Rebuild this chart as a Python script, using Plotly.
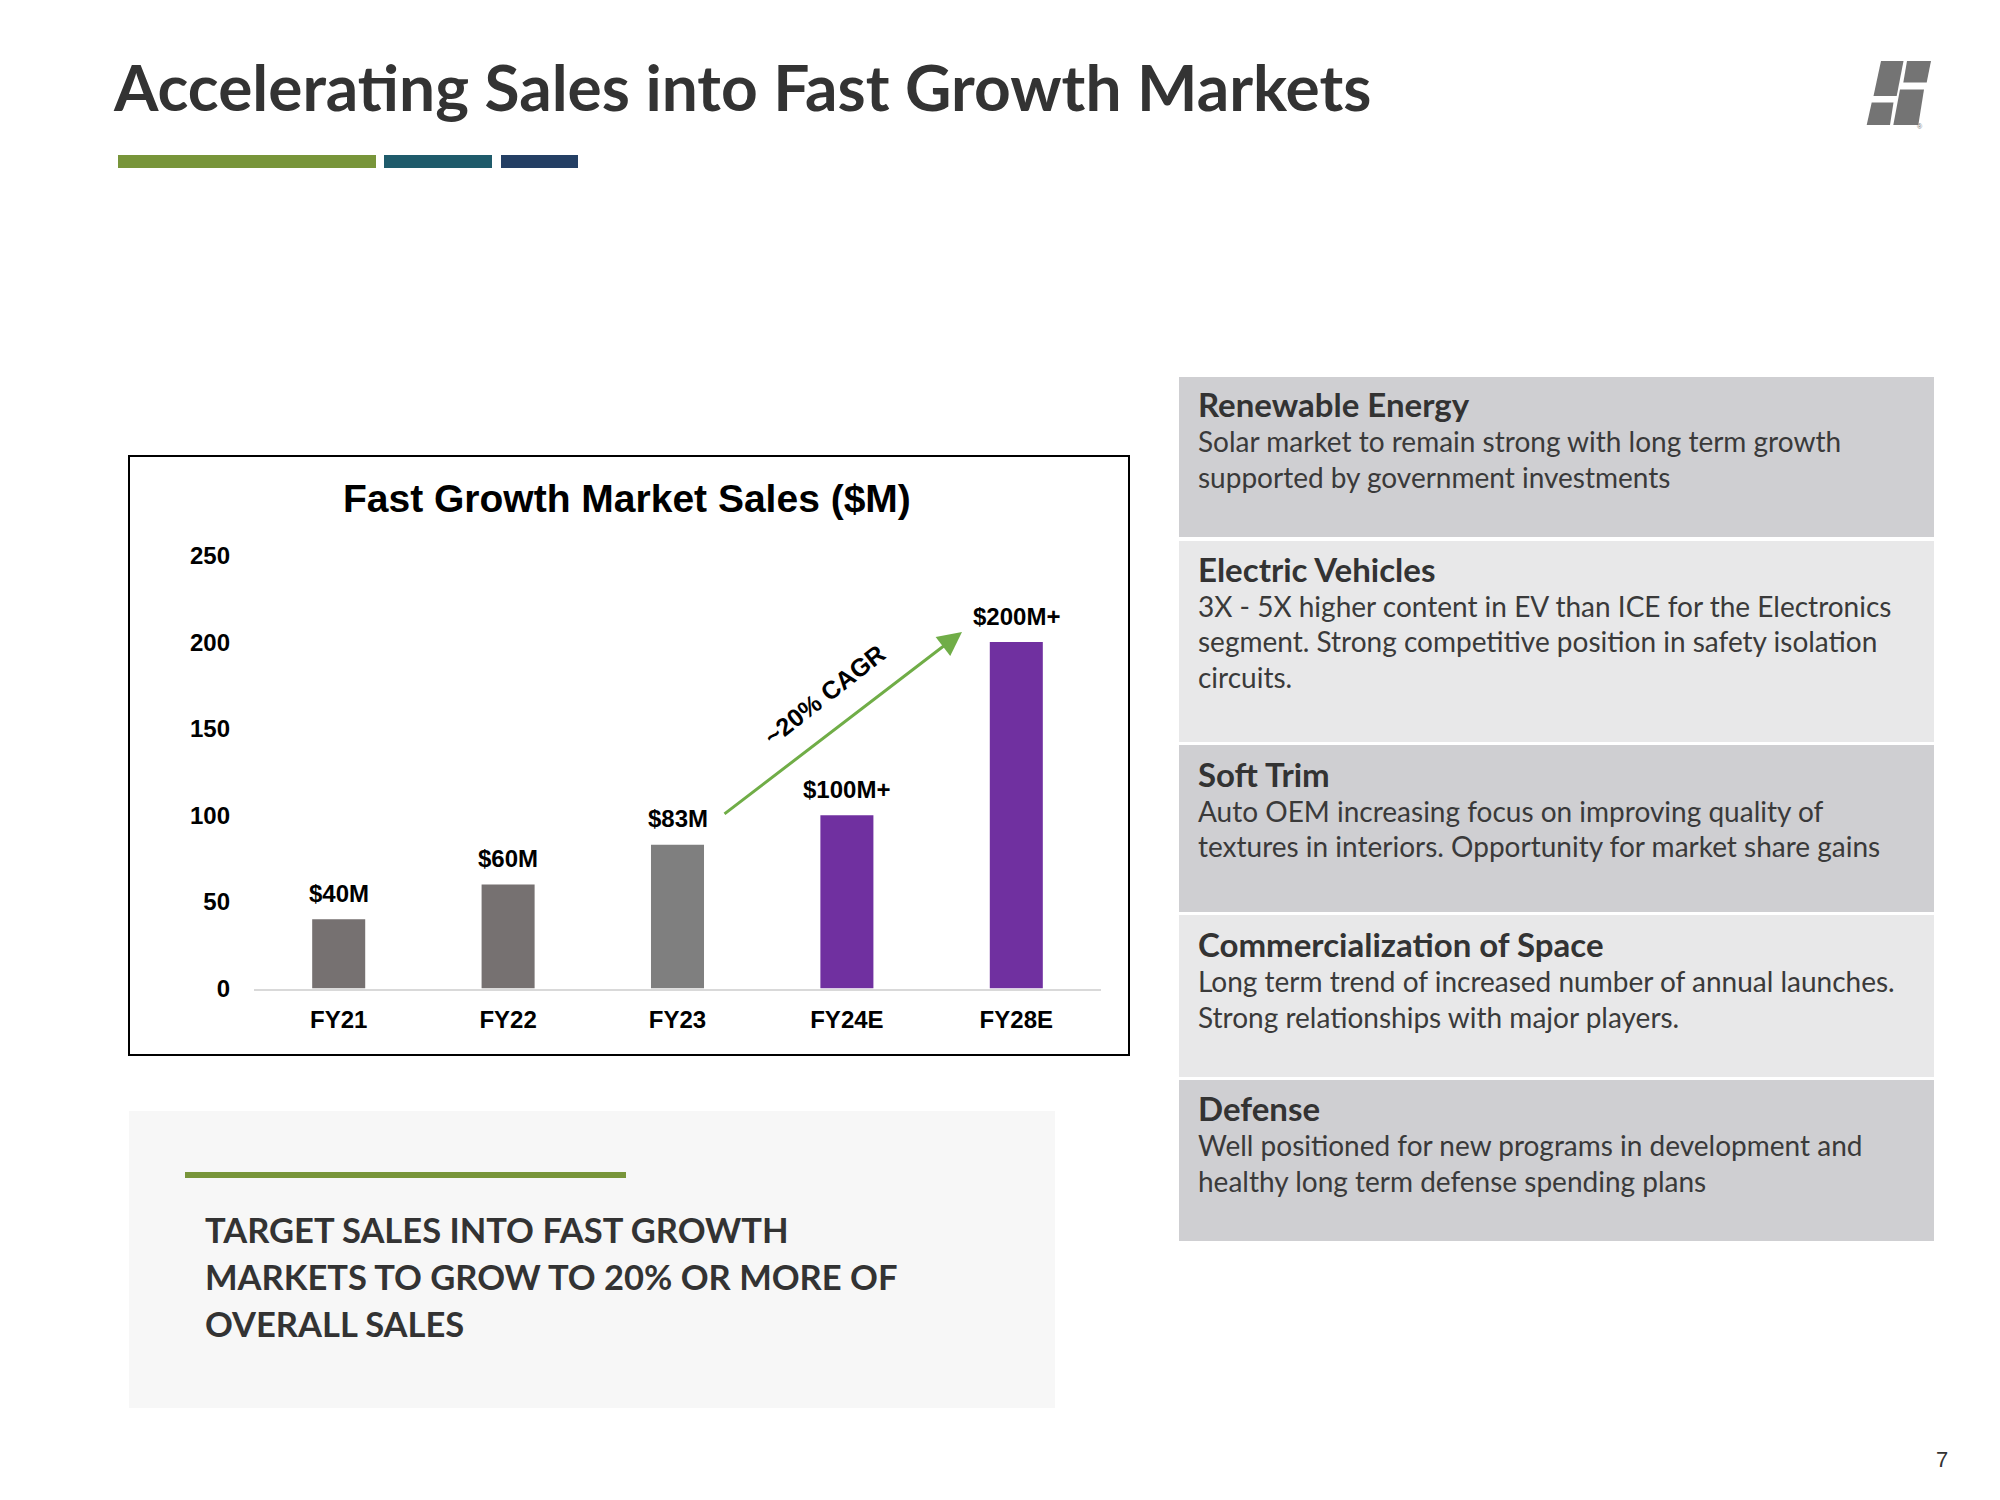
import plotly.graph_objects as go

# the page body adds an 8px margin; size the figure so it fills the window exactly
OFF = 8
W, H = 2000 - OFF, 1500 - OFF

def X(px):
    return (px - OFF) / W

def Y(py):
    return 1 - (py - OFF) / H

# ---------------- data ----------------
years = ["FY21", "FY22", "FY23", "FY24E", "FY28E"]
sales = [40, 60, 83, 100, 200]
sales_labels = ["$40M", "$60M", "$83M", "$100M+", "$200M+"]
bar_colors = ["#767171", "#767171", "#7f7f7f", "#7030a0", "#7030a0"]
y_ticks = [0, 50, 100, 150, 200, 250]

panel_titles = ["Renewable Energy", "Electric Vehicles", "Soft Trim",
                "Commercialization of Space", "Defense"]
panel_bodies = [
    ["Solar market to remain strong with long term growth",
     "supported by government investments"],
    ["3X - 5X higher content in EV than ICE for the Electronics",
     "segment. Strong competitive position in safety isolation",
     "circuits."],
    ["Auto OEM increasing focus on improving quality of",
     "textures in interiors. Opportunity for market share gains"],
    ["Long term trend of increased number of annual launches.",
     "Strong relationships with major players."],
    ["Well positioned for new programs in development and",
     "healthy long term defense spending plans"],
]
takeaway_lines = ["TARGET SALES INTO FAST GROWTH",
                  "MARKETS TO GROW TO 20% OR MORE OF",
                  "OVERALL SALES"]

TEXT_FONT = "Lato"
CHART_FONT = "Liberation Sans"
DARK = "#333333"

fig = go.Figure()
fig.add_trace(go.Bar(
    x=years, y=sales, marker=dict(color=bar_colors, line=dict(width=0)),
    hoverinfo="skip", showlegend=False,
))

shapes = []
annotations = []

# ---- header ----
annotations.append(dict(
    text="Accelerating Sales into Fast Growth Markets", x=X(111), y=Y(86),
    xref="paper", yref="paper", xanchor="left", yanchor="middle", showarrow=False,
    font=dict(family=TEXT_FONT, size=64, color=DARK, weight="bold"),
))
for x0, x1, col in [(118, 376, "#78953a"), (384, 492, "#1f5b6b"), (501, 578, "#243f64")]:
    shapes.append(dict(type="rect", xref="paper", yref="paper",
                       x0=X(x0), x1=X(x1), y0=Y(168), y1=Y(155),
                       fillcolor=col, line=dict(width=0)))

# logo (four slanted blocks)
logo_polys = [
    [(1881, 61), (1903.5, 61), (1896.7, 96), (1873.5, 96)],
    [(1907, 61), (1931, 61), (1926.7, 82.5), (1903.3, 82.5)],
    [(1871.7, 102.5), (1893.5, 102.5), (1890, 125), (1866.7, 125)],
    [(1900, 89.5), (1924, 89.5), (1918.3, 125), (1893.3, 125)],
]
for poly in logo_polys:
    path = "M " + " L ".join(f"{X(a):.5f},{Y(b):.5f}" for a, b in poly) + " Z"
    shapes.append(dict(type="path", xref="paper", yref="paper", path=path,
                       fillcolor="#747474", line=dict(width=0)))
annotations.append(dict(text="®", x=X(1925), y=Y(121), xref="paper", yref="paper",
                        showarrow=False, font=dict(family=CHART_FONT, size=7, color="#747474")))

# ---- chart frame ----
shapes.append(dict(type="rect", xref="paper", yref="paper",
                   x0=X(129), x1=X(1129), y0=Y(1055), y1=Y(456),
                   line=dict(color="#000000", width=2), fillcolor="rgba(0,0,0,0)"))
annotations.append(dict(
    text="Fast Growth Market Sales ($M)", x=X(627), y=Y(499),
    xref="paper", yref="paper", xanchor="center", yanchor="middle", showarrow=False,
    font=dict(family=CHART_FONT, size=39, color="#000000", weight="bold"),
))
for cat, val, lab in zip(years, sales, sales_labels):
    annotations.append(dict(
        text=lab, x=cat, y=val, xref="x", yref="y", xanchor="center", yanchor="middle",
        yshift=26, showarrow=False,
        font=dict(family=CHART_FONT, size=24, color="#000000", weight="bold"),
    ))
# CAGR arrow
annotations.append(dict(
    text="", x=X(962), y=Y(632), xref="paper", yref="paper",
    ax=-239, ay=183, axref="pixel", ayref="pixel",
    showarrow=True, arrowhead=2, arrowsize=1.6, arrowwidth=3, arrowcolor="#70ad47",
))
annotations.append(dict(
    text="~20% CAGR", x=X(824), y=Y(695), xref="paper", yref="paper",
    xanchor="center", yanchor="middle", textangle=-38, showarrow=False,
    font=dict(family=CHART_FONT, size=25, color="#000000", weight="bold"),
))

# ---- takeaway box ----
shapes.append(dict(type="rect", xref="paper", yref="paper",
                   x0=X(129), x1=X(1055), y0=Y(1408), y1=Y(1111),
                   fillcolor="#f7f7f7", line=dict(width=0), layer="below"))
shapes.append(dict(type="rect", xref="paper", yref="paper",
                   x0=X(185), x1=X(626), y0=Y(1178), y1=Y(1172),
                   fillcolor="#78953a", line=dict(width=0)))
for i, line in enumerate(takeaway_lines):
    annotations.append(dict(
        text=line, x=X(203), y=Y(1229 + 47 * i), xref="paper", yref="paper",
        xanchor="left", yanchor="middle", showarrow=False,
        font=dict(family=TEXT_FONT, size=34.5, color=DARK, weight="bold"),
    ))

# ---- right panel ----
box_bounds = [(377, 537), (541, 742), (745, 912), (915, 1077), (1080, 1241)]
box_fill = ["#cfcfd2", "#e8e8e9", "#cfcfd2", "#e8e8e9", "#cfcfd2"]
head_y = [404, 569, 774, 944, 1108]
for (top, bot), col, hy, title, body in zip(box_bounds, box_fill, head_y,
                                            panel_titles, panel_bodies):
    shapes.append(dict(type="rect", xref="paper", yref="paper",
                       x0=X(1179), x1=X(1934), y0=Y(bot), y1=Y(top),
                       fillcolor=col, line=dict(width=0), layer="below"))
    annotations.append(dict(
        text=title, x=X(1196), y=Y(hy), xref="paper", yref="paper",
        xanchor="left", yanchor="middle", showarrow=False,
        font=dict(family=TEXT_FONT, size=33, color=DARK, weight="bold"),
    ))
    for j, line in enumerate(body):
        annotations.append(dict(
            text=line, x=X(1196), y=Y(hy + 37 + 35.5 * j), xref="paper", yref="paper",
            xanchor="left", yanchor="middle", showarrow=False,
            font=dict(family=TEXT_FONT, size=28, color="#3a3a3a"),
        ))

# page number
annotations.append(dict(text="7", x=X(1942), y=Y(1459), xref="paper", yref="paper",
                        showarrow=False, xanchor="center", yanchor="middle",
                        font=dict(family=CHART_FONT, size=22, color=DARK)))

fig.update_layout(
    width=W, height=H, margin=dict(l=0, r=0, t=0, b=0, pad=0),
    paper_bgcolor="#ffffff", plot_bgcolor="#ffffff",
    bargap=0.687, showlegend=False,
    shapes=shapes, annotations=annotations,
    xaxis=dict(domain=[X(254), X(1101)], showgrid=False, zeroline=False,
               showline=True, linecolor="#d9d9d9", linewidth=2, ticks="",
               ticklabelstandoff=9, automargin=False, fixedrange=True,
               tickfont=dict(family=CHART_FONT, size=24, color="#000000", weight="bold")),
    yaxis=dict(domain=[Y(988.5), Y(555.5)], range=[0, 250], tickvals=y_ticks,
               showgrid=False, zeroline=False, showline=False, ticks="",
               ticklabelstandoff=23, automargin=False, fixedrange=True,
               tickfont=dict(family=CHART_FONT, size=24, color="#000000", weight="bold")),
)

fig.write_html("out.html")
